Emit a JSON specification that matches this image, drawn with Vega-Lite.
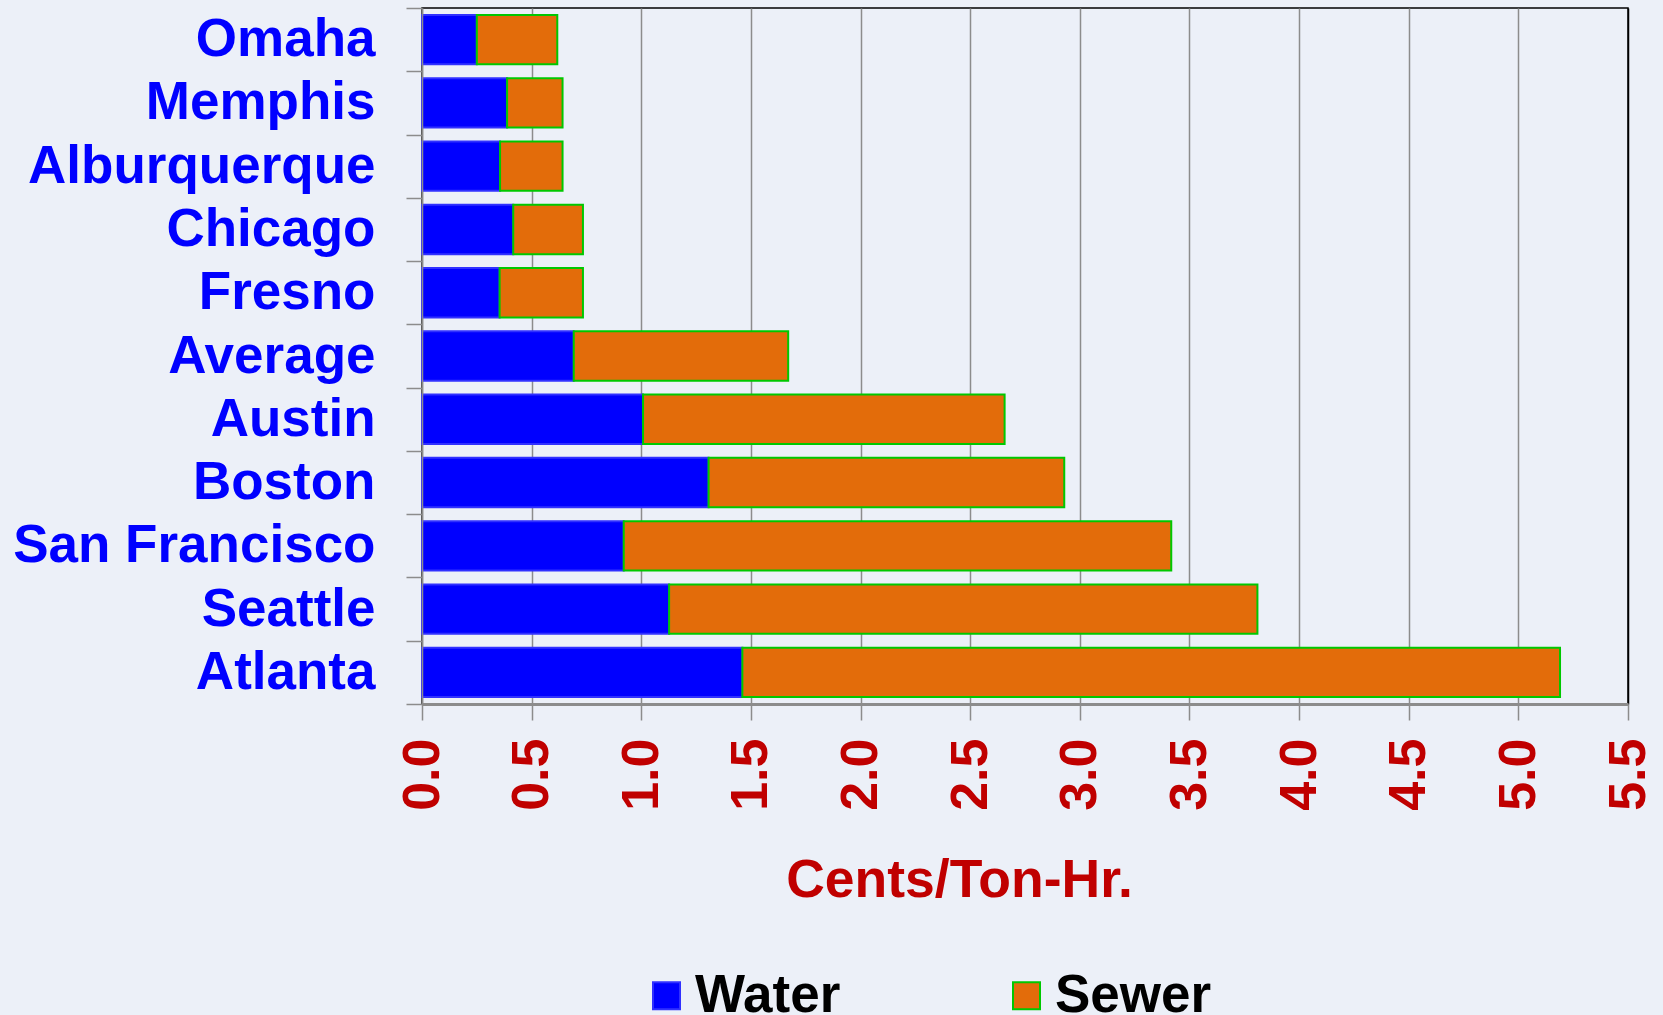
{
  "$schema": "https://vega.github.io/schema/vega-lite/v6.json",
  "width": 1206,
  "height": 696,
  "autosize": {"type": "none"},
  "padding": {"left": 422, "top": 8, "right": 35, "bottom": 311},
  "background": "#ECF0F8",
  "config": {
    "view": {"stroke": "#000000", "strokeWidth": 1.5},
    "font": "Liberation Sans"
  },
  "data": {
    "values": [
      {"city": "Omaha", "type": "Water", "value": 0.25},
      {"city": "Omaha", "type": "Sewer", "value": 0.367},
      {"city": "Memphis", "type": "Water", "value": 0.388},
      {"city": "Memphis", "type": "Sewer", "value": 0.253},
      {"city": "Alburquerque", "type": "Water", "value": 0.356},
      {"city": "Alburquerque", "type": "Sewer", "value": 0.285},
      {"city": "Chicago", "type": "Water", "value": 0.416},
      {"city": "Chicago", "type": "Sewer", "value": 0.318},
      {"city": "Fresno", "type": "Water", "value": 0.354},
      {"city": "Fresno", "type": "Sewer", "value": 0.38},
      {"city": "Average", "type": "Water", "value": 0.692},
      {"city": "Average", "type": "Sewer", "value": 0.978},
      {"city": "Austin", "type": "Water", "value": 1.008},
      {"city": "Austin", "type": "Sewer", "value": 1.649},
      {"city": "Boston", "type": "Water", "value": 1.307},
      {"city": "Boston", "type": "Sewer", "value": 1.622},
      {"city": "San Francisco", "type": "Water", "value": 0.92},
      {"city": "San Francisco", "type": "Sewer", "value": 2.497},
      {"city": "Seattle", "type": "Water", "value": 1.127},
      {"city": "Seattle", "type": "Sewer", "value": 2.683},
      {"city": "Atlanta", "type": "Water", "value": 1.461},
      {"city": "Atlanta", "type": "Sewer", "value": 3.729}
    ]
  },
  "mark": {"type": "bar", "height": {"band": 0.78}, "strokeWidth": 2},
  "encoding": {
    "y": {
      "field": "city",
      "type": "nominal",
      "sort": ["Omaha", "Memphis", "Alburquerque", "Chicago", "Fresno", "Average", "Austin", "Boston", "San Francisco", "Seattle", "Atlanta"],
      "scale": {"paddingInner": 0, "paddingOuter": 0},
      "axis": {
        "title": null,
        "tickBand": "extent",
        "grid": false,
        "domainColor": "#8C8C8C",
        "domainWidth": 1.5,
        "tickColor": "#8C8C8C",
        "tickWidth": 1.5,
        "tickSize": 16,
        "labelFont": "Liberation Sans",
        "labelFontWeight": "bold",
        "labelFontSize": 53,
        "labelColor": "#0000FF",
        "labelPadding": 31,
        "labelLimit": 600,
        "zindex": 1
      }
    },
    "x": {
      "field": "value",
      "type": "quantitative",
      "stack": "zero",
      "scale": {"domain": [0, 5.5], "nice": false},
      "axis": {
        "values": [0, 0.5, 1, 1.5, 2, 2.5, 3, 3.5, 4, 4.5, 5, 5.5],
        "format": ".1f",
        "labelAngle": -90,
        "labelFont": "Liberation Sans",
        "labelFontSize": 52,
        "labelFontWeight": "bold",
        "labelColor": "#C00000",
        "labelPadding": 18,
        "labelFlush": false,
        "labelOverlap": false,
        "tickSize": 16,
        "tickColor": "#8C8C8C",
        "tickWidth": 1.5,
        "domainColor": "#8C8C8C",
        "domainWidth": 3,
        "gridColor": {"condition": {"test": "datum.value === 5.5", "value": "#000000"}, "value": "#8C8C8C"},
        "gridWidth": 1.5,
        "gridOpacity": 1,
        "title": "Cents/Ton-Hr.",
        "titleFont": "Liberation Sans",
        "titleFontSize": 53.5,
        "titleFontWeight": "bold",
        "titleColor": "#C00000",
        "titleX": 537,
        "titleY": 192,
        "titleAlign": "center",
        "titleBaseline": "alphabetic"
      }
    },
    "color": {
      "field": "type",
      "type": "nominal",
      "scale": {"domain": ["Water", "Sewer"], "range": ["#0000FF", "#E36C0A"]},
      "legend": {
        "title": null,
        "orient": "none",
        "legendX": 218,
        "legendY": 961,
        "direction": "horizontal",
        "columns": 2,
        "symbolType": "square",
        "symbolSize": 729,
        "symbolStrokeWidth": 2,
        "labelFont": "Liberation Sans",
        "labelFontSize": 53,
        "labelFontWeight": "bold",
        "labelColor": "#000000",
        "labelOffset": 2,
        "labelLimit": 400,
        "columnPadding": 159,
        "padding": 0
      }
    },
    "stroke": {
      "field": "type",
      "type": "nominal",
      "scale": {"domain": ["Water", "Sewer"], "range": ["#3030FF", "#00C800"]},
      "legend": {
        "title": null,
        "orient": "none",
        "legendX": 218,
        "legendY": 961,
        "direction": "horizontal",
        "columns": 2,
        "symbolType": "square",
        "symbolSize": 729,
        "symbolStrokeWidth": 2,
        "labelFont": "Liberation Sans",
        "labelFontSize": 53,
        "labelFontWeight": "bold",
        "labelColor": "#000000",
        "labelOffset": 2,
        "labelLimit": 400,
        "columnPadding": 159,
        "padding": 0
      }
    },
    "order": {"field": "type", "sort": "descending"}
  }
}
